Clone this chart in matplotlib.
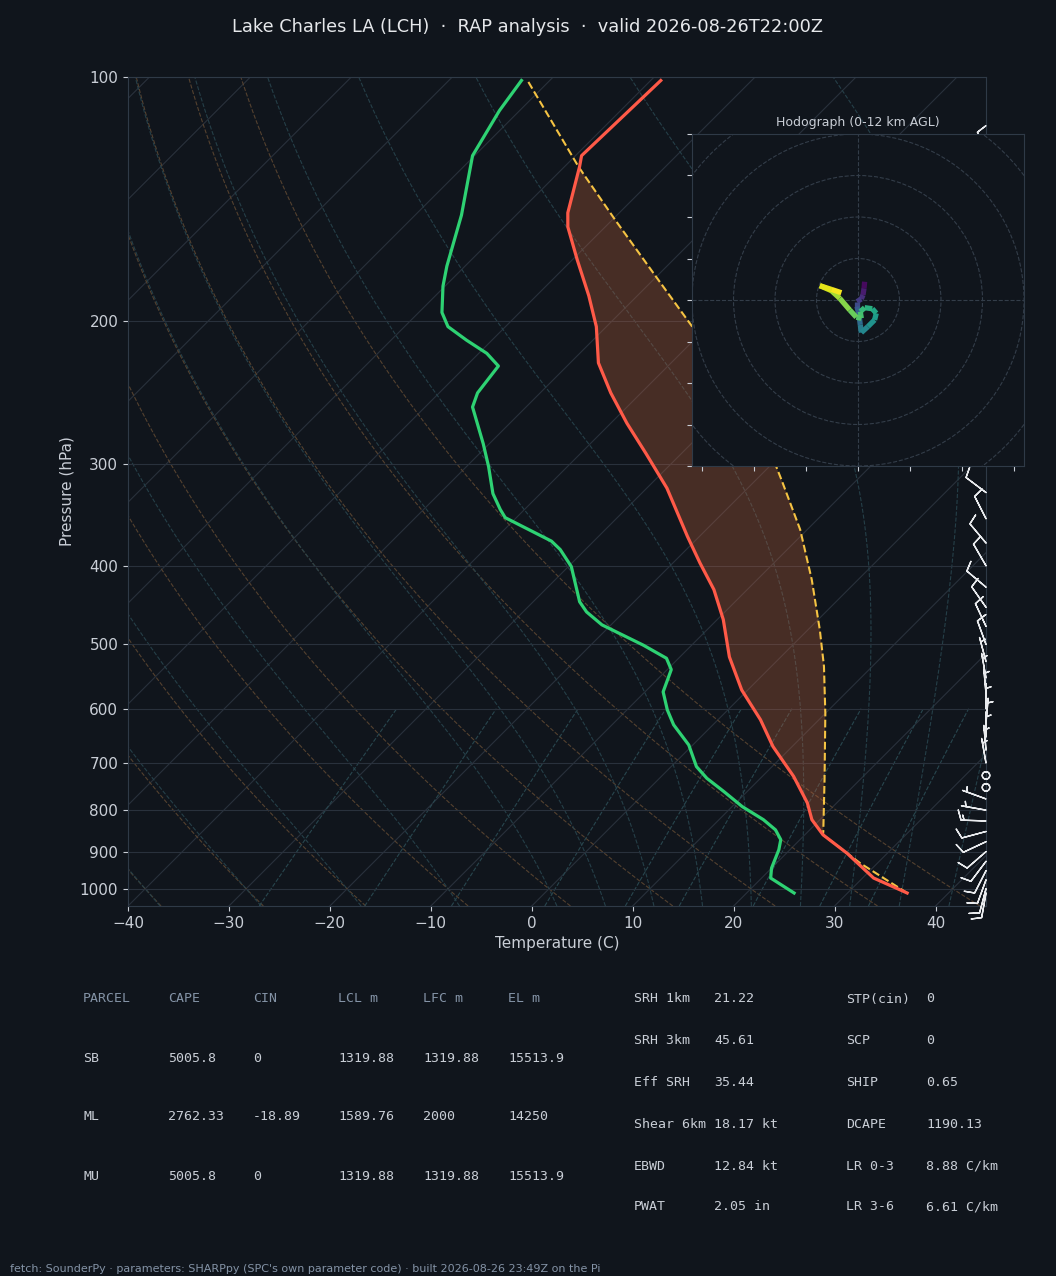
import numpy as np
import matplotlib
matplotlib.use("Agg")
import matplotlib.pyplot as plt
import matplotlib.transforms as mtransforms
from matplotlib.collections import LineCollection
from matplotlib.patches import Circle
from matplotlib.ticker import FixedLocator, FixedFormatter, NullLocator

BG = "#10151c"
FG = "#c9ced6"
DIM = "#8493a6"
GRID = "#29313c"
SPINE = "#2f3a47"
RED = "#ff5a48"
GREEN = "#2ed273"
YELLOW = "#f5c343"

title = "Lake Charles LA (LCH)  \u00b7  RAP analysis  \u00b7  valid 2026-08-26T22:00Z"
footer = ("fetch: SounderPy \u00b7 parameters: SHARPpy (SPC's own parameter code) "
          "\u00b7 built 2026-08-26 23:49Z on the Pi")

# environment temperature (hPa, C)
p_temp = np.array([1012, 970, 904, 858, 822, 784, 727, 668, 619, 569, 518, 466, 428,
                   397, 368, 321, 291, 267, 245, 225, 203, 186, 168, 153, 147, 129, 125, 101])
temp = np.array([35.9, 31.1, 26.0, 21.8, 19.2, 17.1, 13.1, 8.1, 4.2, -0.6, -5.1, -9.4, -13.3,
                 -17.3, -21.2, -28.0, -33.5, -38.4, -43.0, -47.2, -51.0, -54.8, -59.5, -63.7,
                 -65.1, -68.5, -69.4, -69.0])

# dewpoint
p_dew = np.array([1012, 970, 943, 895, 870, 846, 822, 792, 759, 731, 707, 665, 628, 602,
                  572, 537, 520, 501, 473, 456, 443, 401, 382, 373, 349, 341, 326, 302,
                  283, 255, 245, 227, 219, 211, 203, 195, 181, 171, 148, 125, 110, 101])
dewpt = np.array([24.7, 20.9, 20.0, 18.9, 18.1, 16.6, 14.4, 11.0, 7.7, 4.7, 2.5, -0.4, -3.9,
                  -6.0, -8.2, -9.6, -11.2, -14.8, -20.9, -23.7, -25.4, -29.7, -32.5, -34.2,
                  -41.1, -42.4, -44.7, -47.8, -50.6, -55.3, -56.2, -56.8, -59.2, -62.5,
                  -65.7, -67.7, -70.2, -71.8, -75.4, -80.2, -82.0, -82.8])

# surface parcel
p_parcel = np.array([1012, 930, 858, 850, 734, 608, 532, 480, 416, 361, 314, 302, 203,
                     176, 150, 129, 101])
parcel = np.array([35.9, 28.3, 21.8, 21.5, 16.5, 10.0, 5.2, 1.2, -4.6, -10.7, -17.4,
                   -19.3, -41.5, -50.1, -59.7, -68.6, -82.2])
lcl_p, el_p = 858, 129

# winds for the barbs (direction deg, speed kt)
wind_p = np.array([1012, 1000, 975, 950, 925, 900, 875, 850, 825, 800, 775, 750, 725, 700,
                   675, 650, 625, 600, 575, 550, 525, 500, 475, 450, 425, 400, 375, 350,
                   325, 300, 275, 250, 225, 200, 175, 150, 125])
wind_dir = np.array([190, 195, 200, 207, 217, 229, 245, 255, 272, 280, 290, 0, 0, 350,
                     355, 0, 5, 0, 355, 350, 345, 340, 335, 325, 310, 330, 320, 333,
                     307, 300, 150, 120, 110, 110, 105, 100, 340])
wind_spd = np.array([10, 10, 10, 10, 10, 10, 10, 9, 13, 6, 4, 0, 0, 5,
                     5, 6, 6, 6, 5, 5, 6, 8, 10, 12, 12, 12, 12, 12,
                     10, 8, 6, 10, 15, 20, 18, 15, 10])

# hodograph trace (kt) and height AGL (km)
hodo_u = [3.2, 2.9, 2.4, 1.6, -0.5, -0.5, 0.5, 1.1, 1.6, 4.8, 8.0, 8.8, 6.9, 3.2, 1.1,
          1.6, -0.8, -4.0, -8.8, -12.8, -18.4, -12.8, -8.0]
hodo_v = [8.8, 5.6, 2.4, 0.5, -0.8, -3.2, -7.2, -12.0, -15.7, -12.8, -9.6, -6.4, -4.2,
          -3.7, -5.6, -8.8, -8.3, -4.8, 0.8, 4.5, 6.9, 5.1, 3.5]
hodo_km = [0.0, 0.6, 1.2, 1.8, 2.4, 3.0, 3.8, 4.6, 5.3, 5.8, 6.3, 6.8, 7.3, 7.8, 8.2,
           8.6, 9.0, 9.5, 10.1, 10.7, 11.3, 11.7, 12.0]

parcel_cols = ["PARCEL", "CAPE", "CIN", "LCL m", "LFC m", "EL m"]
parcel_rows = [["SB", "5005.8", "0", "1319.88", "1319.88", "15513.9"],
               ["ML", "2762.33", "-18.89", "1589.76", "2000", "14250"],
               ["MU", "5005.8", "0", "1319.88", "1319.88", "15513.9"]]
kin_names = ["SRH 1km", "SRH 3km", "Eff SRH", "Shear 6km", "EBWD", "PWAT"]
kin_vals = ["21.22", "45.61", "35.44", "18.17 kt", "12.84 kt", "2.05 in"]
thermo_names = ["STP(cin)", "SCP", "SHIP", "DCAPE", "LR 0-3", "LR 3-6"]
thermo_vals = ["0", "0", "0.65", "1190.13", "8.88 C/km", "6.61 C/km"]

p_ticks = [100, 200, 300, 400, 500, 600, 700, 800, 900, 1000]
t_ticks = [-40, -30, -20, -10, 0, 10, 20, 30, 40]

W, H = 1056, 1276
P_BOT, P_TOP = 1050, 100
T_MIN, T_MAX = -40, 45

fig = plt.figure(figsize=(W / 100, H / 100), dpi=100, facecolor=BG)
ax_l, ax_b, ax_w, ax_h = 128, 906, 858, 829
ax = fig.add_axes([ax_l / W, 1 - ax_b / H, ax_w / W, ax_h / H])
ax.set_facecolor(BG)

# 45 degree skew: one pixel right for each pixel up
K = (ax_h / np.log(P_BOT / P_TOP)) / (ax_w / (T_MAX - T_MIN))


def skew(t, p):
    return np.asarray(t, float) + K * np.log(P_BOT / np.asarray(p, float))


def dtdp(T, p):
    es = 6.112 * np.exp(17.67 * (T - 273.15) / (T - 29.65))
    rs = 0.622 * es / (p - es)
    return (287.04 * T + 2.501e6 * rs) / (1005.7 + 2.501e6 ** 2 * rs * 0.622 / (287.04 * T ** 2)) / p


def moist(t0, pres):
    T = np.asarray(t0, float) + 273.15
    out = [T]
    for p0, p1 in zip(pres[:-1], pres[1:]):
        h = p1 - p0
        k1 = dtdp(T, p0)
        k2 = dtdp(T + h * k1 / 2, p0 + h / 2)
        k3 = dtdp(T + h * k2 / 2, p0 + h / 2)
        k4 = dtdp(T + h * k3, p1)
        T = T + h * (k1 + 2 * k2 + 2 * k3 + k4) / 6
        out.append(T)
    return np.array(out) - 273.15


# reference lines
for t in range(-130, 50, 10):
    ax.plot(skew([t, t], [P_BOT, P_TOP]), [P_BOT, P_TOP], color=GRID, lw=0.8, zorder=1)

pp = np.geomspace(P_BOT, P_TOP, 120)
for t0 in range(-40, 41, 10):
    td = (t0 + 273.15) * (pp / 1000) ** 0.2857 - 273.15
    ax.plot(skew(td, pp), pp, color="#54412f", lw=0.8, ls="--", zorder=1)

moist_t0 = np.concatenate([np.arange(-40, 0, 10), np.arange(0, 46, 5)])
p_up = np.linspace(1000, P_TOP, 181)
p_dn = np.linspace(1000, P_BOT, 11)
t_up = moist(moist_t0, p_up)
t_dn = moist(moist_t0, p_dn)
for i in range(len(moist_t0)):
    pm = np.concatenate([p_dn[::-1], p_up[1:]])
    tm = np.concatenate([t_dn[::-1, i], t_up[1:, i]])
    ax.plot(skew(tm, pm), pm, color="#253f48", lw=0.8, ls="--", zorder=1)

pw = np.geomspace(P_BOT, 600, 40)
for w in [0.4, 1, 2, 4, 7, 10, 16, 24, 32]:
    e = (w / 1000) * pw / (0.622 + w / 1000)
    lr = np.log(e / 6.112)
    ax.plot(skew(243.5 * lr / (17.67 - lr), pw), pw, color="#28464e", lw=0.8, ls="--", zorder=1)

# CAPE shading between parcel and environment
mp = (p_parcel >= el_p) & (p_parcel <= lcl_p)
mt = (p_temp >= el_p) & (p_temp <= lcl_p)
fx = np.concatenate([skew(parcel[mp], p_parcel[mp]), skew(temp[mt], p_temp[mt])[::-1]])
fy = np.concatenate([p_parcel[mp], p_temp[mt][::-1]])
ax.fill(fx, fy, color="#c7653d", alpha=0.3, lw=0, zorder=3)

ax.plot(skew(parcel, p_parcel), p_parcel, color=YELLOW, lw=1.5, ls="--", zorder=4)
ax.plot(skew(temp, p_temp), p_temp, color=RED, lw=2.3, zorder=5)
ax.plot(skew(dewpt, p_dew), p_dew, color=GREEN, lw=2.3, zorder=5)

# wind barbs on the right edge
rad = np.deg2rad(wind_dir)
bu = -wind_spd * np.sin(rad)
bv = -wind_spd * np.cos(rad)
btrans = mtransforms.blended_transform_factory(ax.transAxes, ax.transData)
ax.barbs(np.ones(len(wind_p)), wind_p, bu, bv, transform=btrans, length=6,
         color="#e8eaed", lw=1.0, clip_on=False, zorder=6)

ax.set_yscale("log")
ax.set_ylim(P_BOT, P_TOP)
ax.set_xlim(T_MIN, T_MAX)
ax.yaxis.set_major_locator(FixedLocator(p_ticks))
ax.yaxis.set_major_formatter(FixedFormatter([str(p) for p in p_ticks]))
ax.yaxis.set_minor_locator(NullLocator())
ax.set_xticks(t_ticks)
ax.grid(axis="y", color=GRID, lw=0.8)
ax.tick_params(colors=FG, labelsize=11, length=3.5)
for s in ax.spines.values():
    s.set_color(SPINE)
ax.set_xlabel("Temperature (C)", color=FG, fontsize=11)
ax.set_ylabel("Pressure (hPa)", color=FG, fontsize=11)

# hodograph inset
hx = fig.add_axes([692 / W, 1 - 466 / H, 332 / W, 332 / H])
hx.set_facecolor(BG)
hx.set_xlim(-80, 80)
hx.set_ylim(-80, 80)
for r in (20, 40, 60, 80, 100):
    hx.add_patch(Circle((0, 0), r, fill=False, ls="--", lw=0.8, color="#333d49"))
hx.axhline(0, ls="--", lw=0.8, color="#333d49")
hx.axvline(0, ls="--", lw=0.8, color="#333d49")
pts = np.column_stack([hodo_u, hodo_v])
segs = np.stack([pts[:-1], pts[1:]], axis=1)
lc = LineCollection(segs, cmap="viridis", norm=plt.Normalize(0, 12), lw=3.8, zorder=3)
lc.set_array((np.array(hodo_km[:-1]) + np.array(hodo_km[1:])) / 2)
hx.add_collection(lc)
hx.set_xticks(np.arange(-75, 76, 25))
hx.set_yticks(np.arange(-80, 81, 20))
hx.tick_params(colors=FG, labelleft=False, labelbottom=False, length=3.5)
for s in hx.spines.values():
    s.set_color(SPINE)
hx.set_title("Hodograph (0-12 km AGL)", color=FG, fontsize=9, pad=6)

fig.text(0.5, 1 - 27 / H, title, ha="center", va="center", color="#e6e8eb", fontsize=12.8)

# parameter tables
mono = dict(family="DejaVu Sans Mono", fontsize=9.5, va="center")
col_x = [83, 168, 253, 338, 423, 508]
row_y = [999, 1058, 1117, 1176]
for x, c in zip(col_x, parcel_cols):
    fig.text(x / W, 1 - row_y[0] / H, c, color=DIM, **mono)
for y, row in zip(row_y[1:], parcel_rows):
    for x, c in zip(col_x, row):
        fig.text(x / W, 1 - y / H, c, color=FG, **mono)

side_y = [999, 1041, 1083, 1124, 1166, 1207]
for y, n, v, n2, v2 in zip(side_y, kin_names, kin_vals, thermo_names, thermo_vals):
    fig.text(634 / W, 1 - y / H, n, color=FG, **mono)
    fig.text(714 / W, 1 - y / H, v, color=FG, **mono)
    fig.text(846 / W, 1 - y / H, n2, color=FG, **mono)
    fig.text(926 / W, 1 - y / H, v2, color=FG, **mono)

fig.text(10 / W, 1 - 1269 / H, footer, color=DIM, fontsize=8, va="center")

fig.savefig("out.png", dpi=100, facecolor=BG)
